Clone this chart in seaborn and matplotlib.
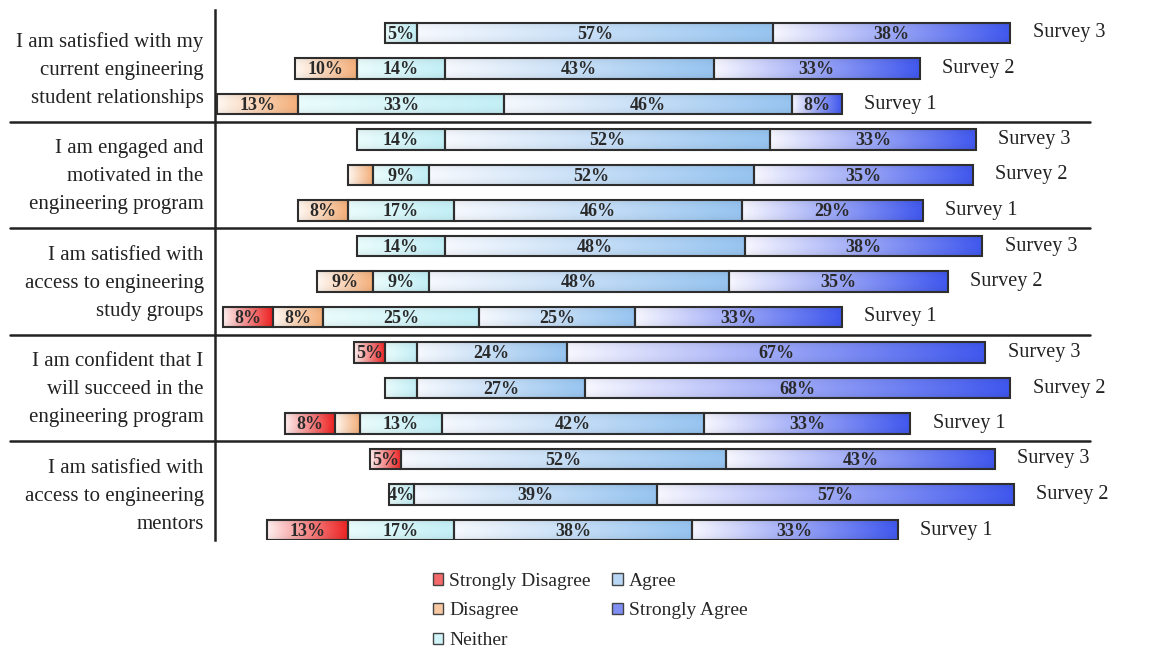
import numpy as np
import pandas as pd
import matplotlib
matplotlib.use("Agg")
import matplotlib.pyplot as plt
import matplotlib.transforms as mtransforms
from matplotlib.patches import Patch
from matplotlib.colors import to_rgb
import seaborn as sns

# ---------------- data ----------------
questions = [
    "I am satisfied with my\ncurrent engineering\nstudent relationships",
    "I am engaged and\nmotivated in the\nengineering program",
    "I am satisfied with\naccess to engineering\nstudy groups",
    "I am confident that I\nwill succeed in the\nengineering program",
    "I am satisfied with\naccess to engineering\nmentors",
]
surveys = ["Survey 3", "Survey 2", "Survey 1"]
categories = ["Strongly Disagree", "Disagree", "Neither", "Agree", "Strongly Agree"]

# rows ordered top to bottom: Q1 S3, Q1 S2, Q1 S1, Q2 S3, ...
strongly_disagree = [0, 0, 0, 0, 0, 0, 0, 0, 8, 5, 0, 8, 5, 0, 13]
disagree = [0, 10, 13, 0, 4, 8, 0, 9, 8, 0, 0, 4, 0, 0, 0]
neither = [5, 14, 33, 14, 9, 17, 14, 9, 25, 5, 5, 13, 0, 4, 17]
agree = [57, 43, 46, 52, 52, 46, 48, 48, 25, 24, 27, 42, 52, 39, 38]
strongly_agree = [38, 33, 8, 33, 35, 29, 38, 35, 33, 67, 68, 33, 43, 57, 33]

# segments whose value label is not printed in the original (row, category index)
hidden_labels = [(4, 1), (9, 2), (10, 2), (11, 1)]

colors_start = ["#fff0f0", "#fff8f2", "#eafcfc", "#f6f9fe", "#f7f7ff"]
colors_end = ["#ee2020", "#f4ae78", "#c2eff6", "#96c4f0", "#3f57ee"]

# ---------------- figure ----------------
sns.set_theme(style="white")
plt.rcParams["font.family"] = ["Liberation Serif", "DejaVu Serif"]

W, H = 1170, 649
fig = plt.figure(figsize=(W / 100, H / 100), dpi=100)
ax = fig.add_axes([215 / W, 1 - 540 / H, 875 / W, 530 / H])

rows = [f"{q}-{s}" for q in range(len(questions)) for s in surveys]
values = np.array([strongly_disagree, disagree, neither, agree, strongly_agree], dtype=float)
start = -(values[0] + values[1] + values[2] / 2.0)
lefts = start + np.vstack([np.zeros(len(rows)), np.cumsum(values, axis=0)[:-1]])

segment_patches = []
for ci, cat in enumerate(categories):
    before = len(ax.patches)
    sns.barplot(x=list(values[ci]), y=rows, order=rows, orient="y",
                left=lefts[ci], width=0.58, errorbar=None, color="white",
                edgecolor="#2e2e2e", linewidth=1.5, ax=ax)
    segment_patches.append(ax.patches[before:])

grad = np.linspace(0, 1, 256)
for ci, patches in enumerate(segment_patches):
    c0 = np.array(to_rgb(colors_start[ci]))
    c1 = np.array(to_rgb(colors_end[ci]))
    img_row = c0[None, :] * (1 - grad[:, None]) + c1[None, :] * grad[:, None]
    vy = np.linspace(-1, 1, 16)
    shade = 1 - 0.06 * vy ** 2
    img = np.clip(img_row[None, :, :] * shade[:, None, None], 0, 1)
    for ri, p in enumerate(patches):
        w = p.get_width()
        if w <= 0:
            p.set_visible(False)
            continue
        x0, y0, h = p.get_x(), p.get_y(), p.get_height()
        p.set_facecolor("none")
        p.set_zorder(3)
        im = ax.imshow(img, extent=(x0, x0 + w, y0 + h, y0), aspect="auto",
                       interpolation="bilinear", zorder=2)
        im.set_clip_path(p)
        if (ri, ci) not in hidden_labels:
            ax.text(x0 + w / 2, y0 + h / 2 + 0.03, f"{int(values[ci][ri])}%",
                    ha="center", va="center", fontsize=13, fontweight="bold",
                    color="#2a2a2a", zorder=4)

# survey labels at the right end of each bar
ends = start + values.sum(axis=0)
for ri, r in enumerate(rows):
    ax.text(ends[ri] + 3.6, ri, surveys[ri % 3], ha="left", va="center",
            fontsize=14.5, color="#222222", clip_on=False)

# question labels
trans = mtransforms.blended_transform_factory(ax.transAxes, ax.transData)
for qi, q in enumerate(questions):
    ax.text(-0.013, qi * 3 + 1.05, q, transform=trans, ha="right", va="center",
            fontsize=15, linespacing=1.65, color="#222222", clip_on=False)

# group separators
for qi in range(1, len(questions)):
    ax.axhline(qi * 3 - 0.5, xmin=-205 / 875, xmax=1.0, color="#222222",
               lw=1.8, clip_on=False, zorder=5)

scale = 6.25
ax.set_xlim((215 - 401) / scale, (1090 - 401) / scale)
ax.set_ylim((540 - 33) / 35.5, (10 - 33) / 35.5)
ax.set_xticks([])
ax.set_yticks([])
ax.set_xlabel("")
ax.set_ylabel("")
for s in ["top", "right", "bottom"]:
    ax.spines[s].set_visible(False)
ax.spines["left"].set_color("#222222")
ax.spines["left"].set_linewidth(1.8)

# legend
handles = []
for ci, cat in enumerate(categories):
    mid = 0.35 * np.array(to_rgb(colors_start[ci])) + 0.65 * np.array(to_rgb(colors_end[ci]))
    handles.append(Patch(facecolor=mid, edgecolor="#444444", linewidth=1.0, label=cat))
fig.legend(handles=handles, ncol=2, loc="upper left",
           bbox_to_anchor=(419 / W, 1 - 559 / H), frameon=False,
           fontsize=14, handlelength=0.55, handleheight=0.55,
           handletextpad=0.3, labelspacing=0.66, columnspacing=1.1,
           borderpad=0.2)

fig.savefig("out.png", dpi=100, facecolor="white")
